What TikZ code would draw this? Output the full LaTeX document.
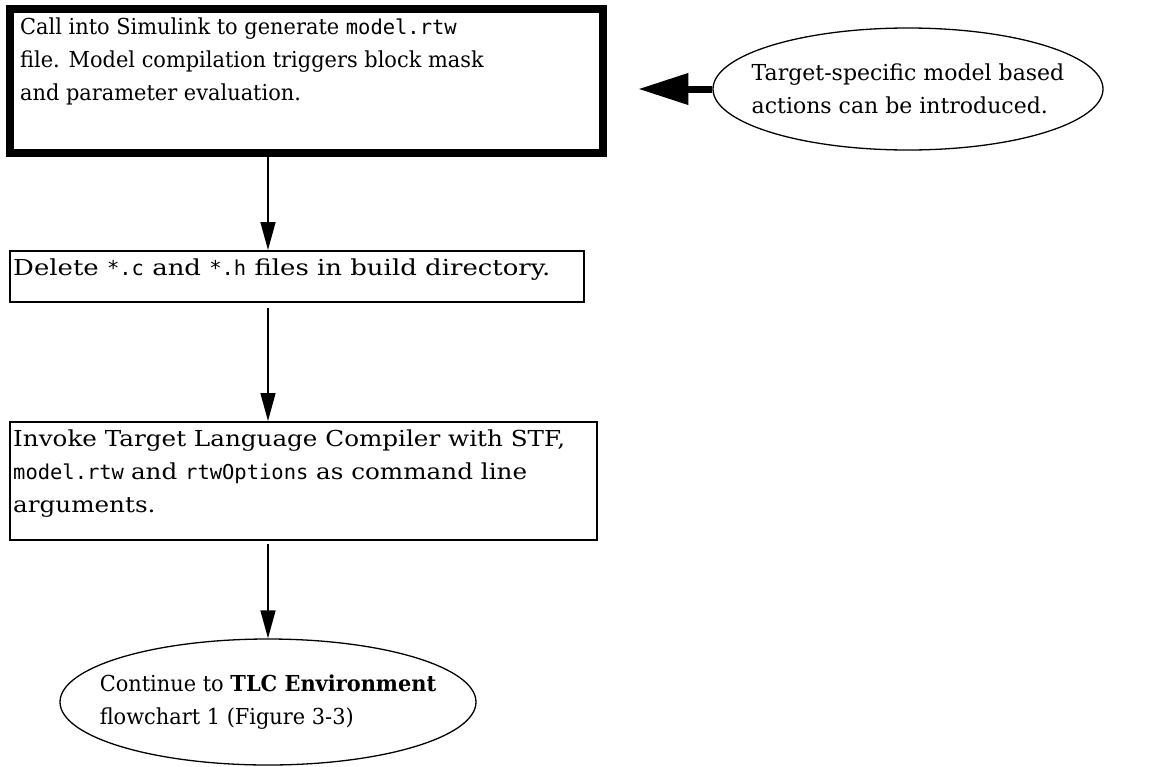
\documentclass[tikz,border=0pt]{standalone}
\usepackage{fontspec}
\setmainfont{DejaVu Serif}
\newfontfamily\serifA{DejaVu Serif}[FakeStretch=0.95]
\newfontfamily\serifB{DejaVu Serif}[FakeStretch=1.18]
\newfontfamily\serifC{DejaVu Serif}[FakeStretch=1.12]
\newfontfamily\serifE{DejaVu Serif}[FakeStretch=0.95]
\newfontfamily\codefont{DejaVu Sans Mono}[Scale=0.93]
\newcommand{\code}[1]{{\codefont #1}}
\usetikzlibrary{shapes.geometric,arrows.meta}
\tikzset{
  txt/.style={font=\fontsize{22}{33}\selectfont},
  boxtext/.style={txt, anchor=north west, inner sep=0pt, align=left},
  ovaltext/.style={txt, anchor=center, inner sep=0pt, align=left},
  stepbox/.style={draw, rectangle, inner sep=0pt, line width=2pt},
  bigbox/.style={draw, rectangle, inner sep=0pt, line width=8.5pt},
  oval/.style={draw, ellipse, inner sep=0pt, line width=1.3pt},
  flow/.style={line width=1.6pt, -{Triangle[length=28pt,width=15pt]}},
  fat/.style={line width=7pt, -{Triangle[length=50pt,width=30pt]}}
}
\begin{document}
\begin{tikzpicture}[x=1pt,y=-1pt]
\useasboundingbox (0,0) rectangle (1157,766);
\coordinate (spine) at (268,0);
% boxes
\node[bigbox, minimum width=593pt, minimum height=144pt] (box1) at (306.5,81) {};
\node[boxtext] (t1) at (20,18) {\serifA Call into Simulink to generate \code{model.rtw}\\\serifA file. Model compilation triggers block mask\\\serifA and parameter evaluation.};
\node[stepbox, minimum width=574pt, minimum height=51pt] (box2) at (297,276.5) {};
\node[boxtext] (t2) at (13,259) {\serifB Delete \code{*.c} and \code{*.h} files in build directory.};
\node[stepbox, minimum width=587pt, minimum height=118pt] (box3) at (303.5,481) {};
\node[boxtext] (t3) at (13,430) {\serifC Invoke Target Language Compiler with STF,\\\code{model.rtw} \serifC and \code{rtwOptions} as command line\\\serifC arguments.};
% ellipses
\node[oval, minimum width=390pt, minimum height=122pt] (e1) at (908,89) {};
\node[ovaltext] (t4) at (e1.center) {Target-specific model based\\actions can be introduced.};
\node[oval, minimum width=416pt, minimum height=126pt] (e2) at (268,702) {};
\node[ovaltext] (t5) at (e2.center) {\serifE Continue to \textbf{TLC Environment}\\\serifE flowchart 1 (Figure 3-3)};
% connectors
\draw[flow] (box1.south -| spine) -- (box2.north -| spine);
\draw[flow, shorten <=5pt] (box2.south -| spine) -- (box3.north -| spine);
\draw[flow, shorten <=3pt] (box3.south -| spine) -- (e2.north);
\draw[fat, shorten >=31pt] (e1.west) -- (e1.west -| box1.east);
\end{tikzpicture}
\end{document}
